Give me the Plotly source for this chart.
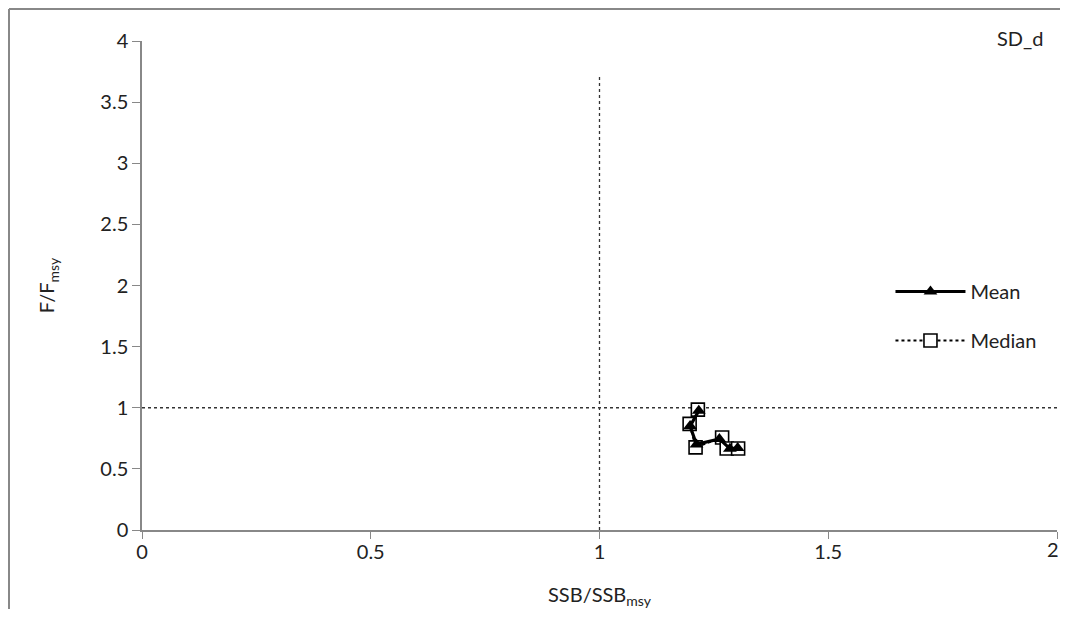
import plotly.graph_objects as go

# Data
mean_x = [1.217, 1.198, 1.212, 1.262, 1.285, 1.302]
mean_y = [0.975, 0.850, 0.700, 0.745, 0.665, 0.670]
median_x = [1.215, 1.197, 1.210, 1.268, 1.278, 1.303]
median_y = [0.985, 0.868, 0.676, 0.757, 0.667, 0.667]

ref_x = 1.0
ref_y = 1.0
vline_top = 3.73

x_ticks = [0, 0.5, 1, 1.5, 2]
y_ticks = [0, 0.5, 1, 1.5, 2, 2.5, 3, 3.5, 4]

FONT = "Lato, 'Open Sans', sans-serif"
W, H = 1060, 601
L, R, T, B = 134, 11, 33, 79
PW, PH = W - L - R, H - T - B

fig = go.Figure()

# reference lines
fig.add_trace(go.Scatter(x=[ref_x, ref_x], y=[0, vline_top], mode="lines",
                         line=dict(color="#333", width=1.3, dash="dot"),
                         showlegend=False, hoverinfo="skip"))
fig.add_trace(go.Scatter(x=[0, 2], y=[ref_y, ref_y], mode="lines",
                         line=dict(color="#333", width=1.3, dash="dot"),
                         showlegend=False, hoverinfo="skip"))

fig.add_trace(go.Scatter(x=median_x, y=median_y, mode="lines+markers", name="Median",
                         legendrank=2, legendgroup="b",
                         line=dict(color="black", width=2, dash="dot"),
                         marker=dict(symbol="square", size=13, color="white",
                                     line=dict(color="black", width=1.6))))
fig.add_trace(go.Scatter(x=mean_x, y=mean_y, mode="lines+markers", name="Mean",
                         legendrank=1, legendgroup="a",
                         line=dict(color="black", width=3.2),
                         marker=dict(symbol="triangle-up", size=12, color="black")))

# last x tick label drawn as annotation (shifted slightly so it is not clipped)
x_ticktext = [f"{v:g}" for v in x_ticks[:-1]] + [""]

fig.update_layout(
    width=W, height=H,
    margin=dict(l=L, r=R, t=T, b=B, autoexpand=False),
    paper_bgcolor="white", plot_bgcolor="white",
    font=dict(family=FONT, size=19, color="#222"),
    showlegend=True,
    legend=dict(x=0.818, y=(H - B - 308) / PH, xanchor="left", yanchor="middle",
                font=dict(size=20, color="#222"), tracegroupgap=20,
                bgcolor="rgba(0,0,0,0)", itemwidth=70),
    xaxis=dict(range=[0, 2], tickvals=x_ticks, ticktext=x_ticktext,
               showgrid=False, zeroline=False, showline=True, linecolor="#888",
               linewidth=1.5, ticks="outside", ticklen=7, tickcolor="#888",
               tickfont=dict(size=20), ticklabelstandoff=-4, automargin=False,
               title=dict(text="SSB/SSB<sub>msy</sub>", standoff=33,
                          font=dict(size=20))),
    yaxis=dict(range=[0, 4], tickvals=y_ticks, ticktext=[f"{v:g}" for v in y_ticks],
               showgrid=False, zeroline=False, showline=True, linecolor="#888",
               linewidth=1.5, ticks="outside", ticklen=8, tickcolor="#888",
               tickfont=dict(size=20), automargin=False,
               title=dict(text="F/F<sub>msy</sub>", standoff=40,
                          font=dict(size=20))),
    shapes=[
        dict(type="line", xref="paper", yref="paper",
             x0=-(L - 1) / PW, x1=-(L - 1) / PW, y0=-B / PH, y1=1 + (T - 1) / PH,
             line=dict(color="#888", width=2)),
        dict(type="line", xref="paper", yref="paper",
             x0=-(L - 1) / PW, x1=1 + R / PW, y0=1 + (T - 1) / PH, y1=1 + (T - 1) / PH,
             line=dict(color="#888", width=2)),
    ],
    annotations=[
        dict(text="SD_d", xref="paper", yref="paper", x=0.987,
             y=1 + 3 / PH, xanchor="right", yanchor="middle", showarrow=False,
             font=dict(size=20, color="#222")),
        dict(text=f"{x_ticks[-1]:g}", xref="x", yref="y", x=x_ticks[-1], y=0,
             xanchor="center", yanchor="top", yshift=-5, xshift=-4, showarrow=False,
             font=dict(size=20, color="#222")),
    ],
)

fig.write_html("out.html")
